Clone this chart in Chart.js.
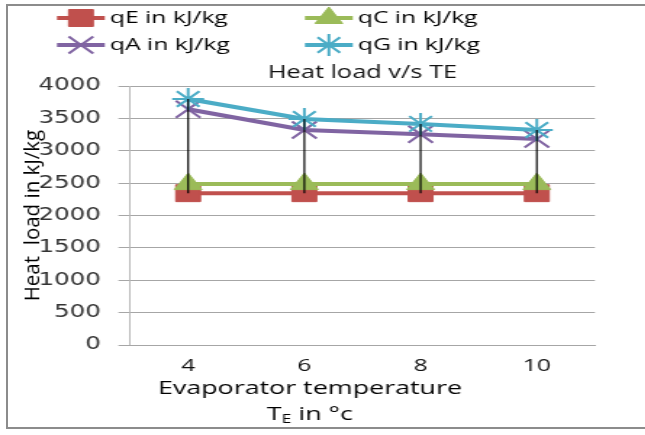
<!DOCTYPE html>
<html lang="en">
<head>
<meta charset="UTF-8">
<title>Heat load v/s TE</title>
<script src="https://cdn.jsdelivr.net/npm/chart.js"></script>
<style>
  html, body { margin: 0; padding: 0; background: #fff; }
  #wrap { position: relative; width: 645px; height: 435px; overflow: hidden; }
  #frame { position: absolute; left: 6px; top: 4px; width: 660px; height: 421px; border: 2px solid #8c8c8c; border-right: none; }
  #myChart { position: absolute; left: 0; top: 0; transform: scaleX(1.45); transform-origin: 0 0; }
</style>
</head>
<body>
<div id="wrap">
  <div id="frame"></div>
  <canvas id="myChart" width="445" height="435" style="width:445px;height:435px"></canvas>
</div>
<script>
// the picture is stretched sideways, so the canvas is too
const STRETCH = 1.45;

// data
const temps = ['4', '6', '8', '10'];
const qE = [2345, 2345, 2345, 2345];
const qC = [2485, 2485, 2485, 2485];
const qA = [3640, 3320, 3255, 3180];
const qG = [3800, 3490, 3415, 3320];
const yMin = 0, yMax = 4000, yStep = 500;

const chartTitle = 'Heat load v/s TE';
const yTitle = 'Heat  load in kJ/kg';

const series = [
  { label: 'qE in kJ/kg', data: qE, color: '#C0504D', style: 'rect', r: 12, bw: 1 },
  { label: 'qC in kJ/kg', data: qC, color: '#9BBB59', style: 'triangle', r: 11, bw: 1 },
  { label: 'qA in kJ/kg', data: qA, color: '#8064A2', style: 'crossRot', r: 12, bw: 2 },
  { label: 'qG in kJ/kg', data: qG, color: '#4BACC6', style: 'star', r: 11, bw: 2 }
];

// black lines from highest to lowest point at each temperature
const dropLines = {
  id: 'dropLines',
  afterDatasetsDraw(chart) {
    const { ctx, scales: { x, y } } = chart;
    ctx.save();
    ctx.strokeStyle = '#000';
    ctx.lineWidth = 1.2;
    temps.forEach((t, i) => {
      const vals = series.map(s => s.data[i]);
      const px = x.getPixelForValue(i);
      ctx.beginPath();
      ctx.moveTo(px, y.getPixelForValue(Math.max(...vals)));
      ctx.lineTo(px, y.getPixelForValue(Math.min(...vals)));
      ctx.stroke();
    });
    ctx.restore();
  }
};

// title, legend and axis titles
const decor = {
  id: 'decor',
  afterDraw(chart) {
    const { ctx, chartArea } = chart;
    ctx.save();
    ctx.textBaseline = 'middle';

    // title
    ctx.fillStyle = '#111';
    ctx.font = '17.5px "Open Sans"';
    ctx.textAlign = 'center';
    ctx.fillText(chartTitle, (chartArea.left + chartArea.right) / 2, 73);

    // legend, two per row
    const colX = [39.3, 210.3];
    const rowY = [18, 45];
    series.forEach((s, i) => {
      const lx = colX[i % 2], ly = rowY[Math.floor(i / 2)];
      ctx.strokeStyle = s.color;
      ctx.lineWidth = 4;
      ctx.beginPath();
      ctx.moveTo(lx, ly);
      ctx.lineTo(lx + 33, ly);
      ctx.stroke();
      ctx.fillStyle = s.color;
      ctx.lineWidth = s.bw;
      Chart.helpers.drawPoint(ctx, { pointStyle: s.style, radius: s.r, borderWidth: s.bw, rotation: 0 }, lx + 16.5, ly);
      ctx.fillStyle = '#000';
      ctx.font = '17px "Open Sans"';
      ctx.textAlign = 'left';
      ctx.fillText(s.label, lx + 36.5, ly);
    });

    // x axis title
    const cx = chartArea.left + 0.387 * (chartArea.right - chartArea.left);
    ctx.fillStyle = '#000';
    ctx.font = '18.5px "Open Sans"';
    ctx.textAlign = 'center';
    ctx.fillText('Evaporator temperature', cx, 389);
    const parts = [['T', '18.5px "Open Sans"', 0], ['E', '12px "Open Sans"', 5], [' in °c', '18.5px "Open Sans"', 0]];
    let w = 0;
    parts.forEach(p => { ctx.font = p[1]; w += ctx.measureText(p[0]).width; });
    let tx = cx - w / 2;
    ctx.textAlign = 'left';
    parts.forEach(p => {
      ctx.font = p[1];
      ctx.fillText(p[0], tx, 415 + p[2]);
      tx += ctx.measureText(p[0]).width;
    });

    // y axis title, not stretched
    ctx.translate(22.8, (chartArea.top + chartArea.bottom) / 2);
    ctx.rotate(-Math.PI / 2);
    ctx.scale(1, 1 / STRETCH);
    ctx.font = '20.5px "Open Sans"';
    ctx.textAlign = 'center';
    ctx.fillStyle = '#000';
    ctx.fillText(yTitle, 0, 0);
    ctx.restore();
  }
};

const ctx = document.getElementById('myChart').getContext('2d');
const myChart = new Chart(ctx, {
  type: 'line',
  data: {
    labels: temps,
    datasets: series.map(s => ({
      label: s.label,
      data: s.data,
      borderColor: s.color,
      backgroundColor: s.color,
      borderWidth: 4,
      pointStyle: s.style,
      pointRadius: s.r,
      pointBorderWidth: s.bw,
      pointBackgroundColor: s.color,
      pointBorderColor: s.color,
      tension: 0
    })).reverse()
  },
  options: {
    responsive: false,
    animation: false,
    devicePixelRatio: 1,
    layout: { padding: { top: 86, right: 34.7, bottom: 0, left: 0 } },
    plugins: { legend: { display: false }, title: { display: false }, tooltip: { enabled: false } },
    scales: {
      x: {
        offset: true,
        grid: { display: false, drawTicks: false },
        border: { display: true, color: '#a6a6a6', width: 1 },
        ticks: { padding: 11, color: '#111', font: { family: 'Open Sans', size: 17 } },
        afterFit(scale) { scale.height = 90; }
      },
      y: {
        min: yMin,
        max: yMax,
        grid: { color: '#a6a6a6', lineWidth: 1, tickLength: 8 },
        border: { color: '#a6a6a6', width: 0.8 },
        ticks: { stepSize: yStep, padding: 12, color: '#333', font: { family: 'DejaVu Sans', size: 17 }, callback: v => String(v) },
        afterFit(scale) { scale.width = 130 / STRETCH; }
      }
    }
  },
  plugins: [dropLines, decor]
});
</script>
</body>
</html>
